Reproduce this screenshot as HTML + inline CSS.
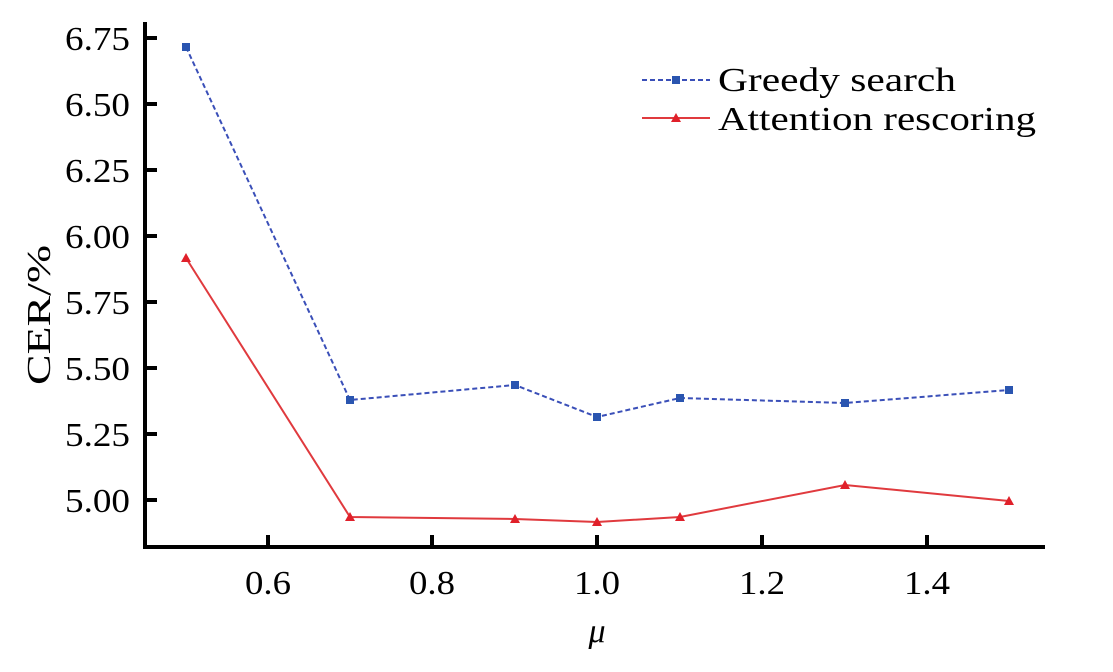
<!DOCTYPE html>
<html><head><meta charset="utf-8"><style>body{margin:0;background:#fff}</style></head><body>
<svg width="1113" height="667" xmlns="http://www.w3.org/2000/svg" font-family="Liberation Serif, serif">
<g stroke="#000" stroke-width="4" fill="none">
<line x1="145" y1="22" x2="145" y2="548"/>
<line x1="143" y1="547" x2="1045" y2="547"/>
<line x1="145" y1="38" x2="157" y2="38"/><line x1="145" y1="104" x2="157" y2="104"/>
<line x1="145" y1="170" x2="157" y2="170"/><line x1="145" y1="236" x2="157" y2="236"/>
<line x1="145" y1="302" x2="157" y2="302"/><line x1="145" y1="368" x2="157" y2="368"/>
<line x1="145" y1="434" x2="157" y2="434"/><line x1="145" y1="500" x2="157" y2="500"/>
<line x1="268" y1="547" x2="268" y2="535"/><line x1="432" y1="547" x2="432" y2="535"/>
<line x1="597" y1="547" x2="597" y2="535"/><line x1="762" y1="547" x2="762" y2="535"/>
<line x1="927" y1="547" x2="927" y2="535"/>
</g>
<g font-size="34" fill="#000">
<text x="65" y="50" textLength="65" lengthAdjust="spacingAndGlyphs">6.75</text>
<text x="65" y="116" textLength="65" lengthAdjust="spacingAndGlyphs">6.50</text>
<text x="65" y="182" textLength="65" lengthAdjust="spacingAndGlyphs">6.25</text>
<text x="65" y="248" textLength="65" lengthAdjust="spacingAndGlyphs">6.00</text>
<text x="65" y="314" textLength="65" lengthAdjust="spacingAndGlyphs">5.75</text>
<text x="65" y="380" textLength="65" lengthAdjust="spacingAndGlyphs">5.50</text>
<text x="65" y="446" textLength="65" lengthAdjust="spacingAndGlyphs">5.25</text>
<text x="65" y="512" textLength="65" lengthAdjust="spacingAndGlyphs">5.00</text>
</g>
<g font-size="34" fill="#000">
<text x="245" y="594" textLength="46" lengthAdjust="spacingAndGlyphs">0.6</text>
<text x="409" y="594" textLength="46" lengthAdjust="spacingAndGlyphs">0.8</text>
<text x="574" y="594" textLength="46" lengthAdjust="spacingAndGlyphs">1.0</text>
<text x="739" y="594" textLength="46" lengthAdjust="spacingAndGlyphs">1.2</text>
<text x="904" y="594" textLength="46" lengthAdjust="spacingAndGlyphs">1.4</text>
<text x="597" y="642" font-style="italic" text-anchor="middle">μ</text>
<text transform="translate(50,385) rotate(-90)" textLength="140" lengthAdjust="spacingAndGlyphs">CER/%</text>
</g>
<polyline fill="none" stroke="#3a4fb8" stroke-width="2" stroke-dasharray="5,3" points="186,47 350,400 515,385 597,417 680,398 845,403 1009,390"/>
<g fill="#2a55b0">
<rect x="182" y="43" width="8" height="8"/><rect x="346" y="396" width="8" height="8"/><rect x="511" y="381" width="8" height="8"/>
<rect x="593" y="413" width="8" height="8"/><rect x="676" y="394" width="8" height="8"/><rect x="841" y="399" width="8" height="8"/><rect x="1005" y="386" width="8" height="8"/>
</g>
<polyline fill="none" stroke="#e03a3e" stroke-width="2" points="186,258 350,517 515,519 597,522 680,517 845,485 1009,501"/>
<g fill="#e0202a">
<polygon points="186,253 191,262 181,262"/><polygon points="350,512 355,521 345,521"/><polygon points="515,514 520,523 510,523"/>
<polygon points="597,517 602,526 592,526"/><polygon points="680,512 685,521 675,521"/><polygon points="845,480 850,489 840,489"/><polygon points="1009,496 1014,505 1004,505"/>
</g>
<line x1="642" y1="80" x2="710" y2="80" stroke="#3a4fb8" stroke-width="2" stroke-dasharray="5,3"/>
<rect x="672" y="76" width="8" height="8" fill="#2a55b0"/>
<line x1="642" y1="118" x2="710" y2="118" stroke="#e03a3e" stroke-width="2"/>
<polygon points="676,113 681,122 671,122" fill="#e0202a"/>
<text x="718" y="91" font-size="34" textLength="238" lengthAdjust="spacingAndGlyphs">Greedy search</text>
<text x="718" y="130" font-size="34" textLength="318" lengthAdjust="spacingAndGlyphs">Attention rescoring</text>
</svg>
</body></html>
